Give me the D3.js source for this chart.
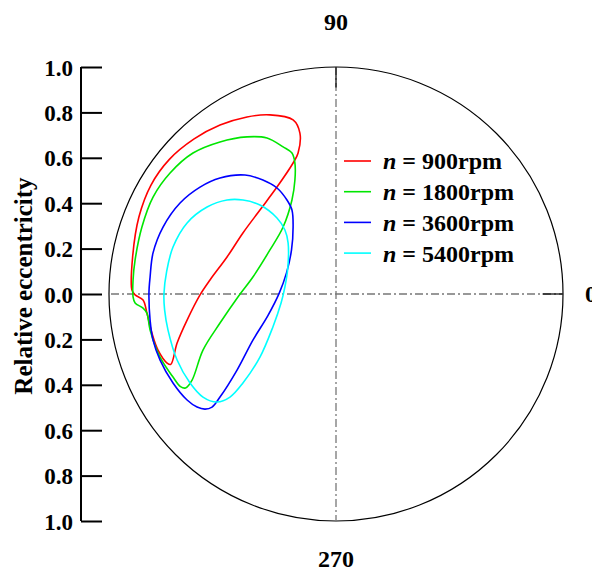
<!DOCTYPE html>
<html>
<head>
<meta charset="utf-8">
<script src="https://cdn.jsdelivr.net/npm/d3@7"></script>
<style>
  body { margin: 0; background: #fff; }
  svg { display: block; }
  text { font-family: "Liberation Serif", "Times New Roman", serif; font-weight: bold; }
</style>
</head>
<body>
<svg width="592" height="569"></svg>
<script>
// journal centre orbits, relative eccentricity (x, y)
var orbit900 = [
    [-0.899, 0.018], [-0.896, 0.163], [-0.868, 0.340], [-0.815, 0.480], [-0.735, 0.592],
    [-0.625, 0.683], [-0.511, 0.744], [-0.392, 0.780], [-0.291, 0.789], [-0.189, 0.767],
    [-0.159, 0.709], [-0.167, 0.621], [-0.189, 0.577], [-0.260, 0.471], [-0.335, 0.370],
    [-0.410, 0.269], [-0.480, 0.163], [-0.555, 0.062], [-0.599, -0.004], [-0.656, -0.115],
    [-0.700, -0.216], [-0.728, -0.310], [-0.744, -0.304], [-0.784, -0.247], [-0.811, -0.172],
    [-0.833, -0.084], [-0.850, -0.026], [-0.885, -0.004]
];
var orbit1800 = [
    [-0.894, -0.013], [-0.894, 0.062], [-0.885, 0.150], [-0.855, 0.295], [-0.806, 0.427],
    [-0.731, 0.533], [-0.630, 0.621], [-0.511, 0.670], [-0.392, 0.692], [-0.304, 0.687],
    [-0.233, 0.648], [-0.194, 0.621], [-0.181, 0.577], [-0.181, 0.502], [-0.194, 0.414],
    [-0.233, 0.295], [-0.291, 0.194], [-0.366, 0.075], [-0.432, -0.013], [-0.511, -0.128],
    [-0.586, -0.247], [-0.634, -0.379], [-0.663, -0.414], [-0.685, -0.408], [-0.718, -0.366],
    [-0.775, -0.278], [-0.819, -0.159], [-0.833, -0.084], [-0.850, -0.062], [-0.885, -0.040]
];
var orbit3600 = [
    [-0.824, 0.004], [-0.819, 0.075], [-0.806, 0.181], [-0.762, 0.295], [-0.687, 0.401],
    [-0.599, 0.471], [-0.511, 0.511], [-0.401, 0.524], [-0.322, 0.502], [-0.260, 0.467],
    [-0.216, 0.414], [-0.194, 0.370], [-0.189, 0.295], [-0.196, 0.194], [-0.218, 0.093],
    [-0.250, 0.004], [-0.300, -0.095], [-0.366, -0.203], [-0.436, -0.335], [-0.511, -0.454],
    [-0.546, -0.498], [-0.577, -0.507], [-0.612, -0.498], [-0.656, -0.467], [-0.718, -0.392],
    [-0.775, -0.291], [-0.806, -0.203], [-0.819, -0.115]
];
var orbit5400 = [
    [-0.758, 0.000], [-0.746, 0.100], [-0.718, 0.207], [-0.656, 0.313], [-0.568, 0.383],
    [-0.480, 0.414], [-0.410, 0.414], [-0.335, 0.392], [-0.260, 0.335], [-0.225, 0.282],
    [-0.211, 0.225], [-0.212, 0.119], [-0.225, 0.031], [-0.242, -0.040], [-0.278, -0.145],
    [-0.335, -0.278], [-0.410, -0.392], [-0.467, -0.454], [-0.524, -0.476], [-0.586, -0.454],
    [-0.643, -0.392], [-0.700, -0.291], [-0.740, -0.159], [-0.755, -0.070]
];
var speeds = ["900", "1800", "3600", "5400"];
var colors = ["#ff0000", "#00e600", "#0000ff", "#00ffff"];
var yTicks = [1.0, 0.8, 0.6, 0.4, 0.2, 0.0, -0.2, -0.4, -0.6, -0.8, -1.0];
var angleLabels = [0, 90, 270];

var svg = d3.select("svg");
var cx = 336, cy = 294, R = 227;

var scX = d3.scaleLinear().domain([-1, 1]).range([cx - R, cx + R]);
var scY = d3.scaleLinear().domain([-1, 1]).range([cy + R, cy - R]);

// left eccentricity axis
var axisG = svg.append("g").attr("transform", "translate(81,0)");
axisG.call(d3.axisRight(scY).tickValues(yTicks).tickSize(21).tickFormat(""));
axisG.select(".domain").attr("stroke", "#000").attr("stroke-width", 2).attr("d", "M0," + scY(1) + "V" + scY(-1));
axisG.selectAll(".tick line").attr("stroke", "#000").attr("stroke-width", 2);
axisG.selectAll(".tick").append("text")
    .attr("x", -8).attr("dy", "0.35em")
    .attr("text-anchor", "end").attr("fill", "#000")
    .style("font-size", "23px")
    .text(d => Math.abs(d).toFixed(1));

svg.append("text")
    .attr("transform", "translate(32,286) rotate(-90)")
    .attr("text-anchor", "middle")
    .style("font-size", "25px")
    .text("Relative eccentricity");

// polar frame
svg.append("circle").attr("cx", cx).attr("cy", cy).attr("r", R)
    .attr("fill", "none").attr("stroke", "#000").attr("stroke-width", 1.2);

var dash = "8,3,2,3";
svg.append("line").attr("x1", scX(-1) + 2).attr("x2", scX(1)).attr("y1", scY(0)).attr("y2", scY(0))
    .attr("stroke", "#777").attr("stroke-width", 1.3).attr("stroke-dasharray", dash);
svg.append("line").attr("x1", scX(0)).attr("x2", scX(0)).attr("y1", scY(1)).attr("y2", scY(-1))
    .attr("stroke", "#777").attr("stroke-width", 1.3).attr("stroke-dasharray", dash);

// solid angular ticks at 0 and 90
svg.append("line").attr("x1", scX(0.91)).attr("x2", scX(1)).attr("y1", scY(0)).attr("y2", scY(0))
    .attr("stroke", "#000").attr("stroke-width", 1.2);
svg.append("line").attr("x1", scX(0)).attr("x2", scX(0)).attr("y1", scY(1)).attr("y2", scY(0.91))
    .attr("stroke", "#000").attr("stroke-width", 1.2);

var labelPos = { 0: [585, cy, "start"], 90: [cx, 22, "middle"], 270: [cx, 559, "middle"] };
angleLabels.forEach(function(a) {
    var p = labelPos[a];
    svg.append("text").attr("x", p[0]).attr("y", p[1]).attr("dy", "0.35em")
        .attr("text-anchor", p[2]).style("font-size", "24px").text(a);
});

// orbits
var lineMaker = d3.line()
    .x(d => scX(d[0]))
    .y(d => scY(d[1]))
    .curve(d3.curveCatmullRomClosed.alpha(0.5));

[orbit900, orbit1800, orbit3600, orbit5400].forEach(function(orbit, i) {
    svg.append("path")
        .attr("d", lineMaker(orbit))
        .attr("fill", "none")
        .attr("stroke", colors[i])
        .attr("stroke-width", 1.6);
});

// legend
var legend = svg.append("g");
speeds.forEach(function(s, i) {
    var y = 161 + i * 30.7;
    legend.append("line").attr("x1", 344).attr("x2", 371).attr("y1", y).attr("y2", y)
        .attr("stroke", colors[i]).attr("stroke-width", 1.6);
    var t = legend.append("text").attr("x", 383).attr("y", y).attr("dy", "0.35em")
        .style("font-size", "24px");
    t.append("tspan").style("font-style", "italic").text("n");
    t.append("tspan").text(" = " + s + "rpm");
});
</script>
</body>
</html>
